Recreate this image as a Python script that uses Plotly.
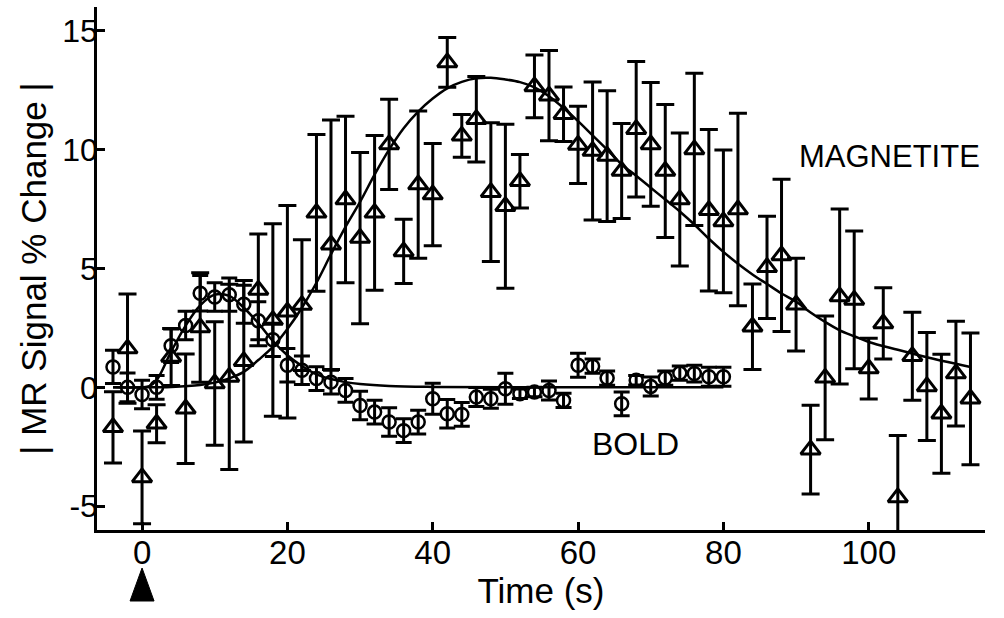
import plotly.graph_objects as go

# ---------------- data ----------------
mag_t = list(range(-4, 115, 2))
mag_y = [-1.68, 1.63, -3.79, -1.53, 1.28, -0.9, 2.52, 0.16, 0.44, 1.1,
         4.1, 2.83, 3.18, 3.46, 7.34, 6.0, 7.9, 6.28, 7.34, 10.22,
         5.72, 8.53, 8.11, 13.67, 10.58, 11.28, 8.21, 7.62, 8.67, 12.66,
         12.27, 11.49, 10.2, 9.94, 9.73, 9.1, 10.86, 10.22, 9.1, 7.9,
         10.01, 7.45, 6.98, 7.48, 2.55, 5.05, 5.55, 3.48, -2.62, 0.4,
         3.82, 3.68, 0.79, 2.69, -4.63, 1.31, 0.04, -1.11, 0.58, -0.48]
mag_err = [1.5, 2.3, 1.95, 0.8, 1.2, 2.3, 2.3, 2.6, 3.9, 3.4,
           2.35, 4.05, 4.47, 2.75, 3.3, 5.25, 3.5, 3.6, 3.25, 1.9,
           1.35, 3.1, 2.15, 1.05, 0.9, 1.8, 2.92, 3.45, 1.13, 1.32,
           1.9, 1.15, 1.62, 2.9, 2.75, 2.0, 2.85, 2.6, 2.8, 2.8,
           3.2, 3.4, 3.0, 4.05, 1.8, 2.15, 3.2, 1.95, 1.87, 2.6,
           3.68, 2.9, 1.28, 1.5, 2.6, 1.85, 2.27, 2.5, 2.2, 2.77]

bold_t = list(range(-4, 81, 2))
bold_y = [0.86, 0.0, -0.3, 0.0, 1.75, 2.6, 3.96, 3.8, 3.9, 3.5,
          2.8, 2.0, 0.93, 0.72, 0.37, 0.22, -0.13, -0.76, -1.04, -1.46,
          -1.82, -1.46, -0.48, -1.11, -1.14, -0.41, -0.48, -0.06, -0.27, -0.2,
          -0.13, -0.55, 0.93, 0.89, 0.39, -0.69, 0.3, 0.04, 0.39, 0.6,
          0.58, 0.45, 0.45]
bold_err = [0.7, 0.6, 0.6, 0.5, 0.7, 0.6, 0.75, 0.6, 0.7, 0.8,
            0.8, 0.7, 0.7, 0.6, 0.5, 0.5, 0.5, 0.6, 0.5, 0.6,
            0.5, 0.5, 0.65, 0.6, 0.5, 0.4, 0.4, 0.65, 0.2, 0.2,
            0.4, 0.3, 0.5, 0.3, 0.3, 0.5, 0.2, 0.4, 0.3, 0.3,
            0.35, 0.4, 0.4]

mag_fit_t = [-4, 0, 4, 8, 10, 12, 14, 16, 18, 20, 22, 24, 26, 28, 30, 32, 34,
             36, 38, 40, 42, 44, 46, 48, 50, 52, 54, 56, 58, 60, 62, 64, 66,
             68, 70, 72, 74, 76, 78, 80, 82, 84, 86, 88, 90, 92, 94, 96, 98,
             100, 104, 108, 112, 114]
mag_fit_y = [0.0, 0.0, 0.02, 0.1, 0.2, 0.38, 0.65, 1.15, 1.7, 2.45, 3.35, 4.4,
             5.6, 6.75, 7.8, 8.95, 10.0, 10.9, 11.6, 12.15, 12.58, 12.85, 13.0,
             13.02, 12.95, 12.84, 12.62, 12.25, 11.75, 11.2, 10.6, 10.0, 9.38,
             8.9, 8.4, 7.9, 7.4, 6.85, 6.25, 5.7, 5.2, 4.75, 4.35, 3.95, 3.6,
             3.15, 2.75, 2.4, 2.15, 1.91, 1.58, 1.27, 0.99, 0.86]

bold_fit_t = [-4, 0, 1, 2, 4, 6, 8, 10, 12, 14, 16, 18, 20, 22, 24, 26, 28,
              30, 34, 40, 50, 80]
bold_fit_y = [0.0, 0.0, 0.05, 0.3, 1.5, 2.6, 3.45, 3.9, 3.85, 3.35, 2.7,
              1.95, 1.35, 0.9, 0.55, 0.35, 0.22, 0.14, 0.06, 0.02, 0.0, 0.0]

x_ticks = [0, 20, 40, 60, 80, 100]
y_ticks = [-5, 0, 5, 10, 15]
y_tick_text = ["-5", "0", "5", "10", "15"]

FONT = "Liberation Sans, Arial, sans-serif"

fig = go.Figure()

fig.add_trace(go.Scatter(
    x=mag_fit_t, y=mag_fit_y, mode="lines", line=dict(color="black", width=2.5, shape="spline"),
    hoverinfo="skip", showlegend=False))
fig.add_trace(go.Scatter(
    x=bold_fit_t, y=bold_fit_y, mode="lines", line=dict(color="black", width=2.5, shape="spline"),
    hoverinfo="skip", showlegend=False))

fig.add_trace(go.Scatter(
    x=mag_t, y=mag_y, mode="markers",
    marker=dict(symbol="triangle-up-open", size=17, color="black", line=dict(width=3, color="black")),
    error_y=dict(type="data", array=mag_err, visible=True, color="black", thickness=3, width=9),
    showlegend=False))
fig.add_trace(go.Scatter(
    x=bold_t, y=bold_y, mode="markers",
    marker=dict(symbol="circle-open", size=13, color="black", line=dict(width=2.5, color="black")),
    error_y=dict(type="data", array=bold_err, visible=True, color="black", thickness=3, width=8),
    showlegend=False))

fig.add_annotation(x=90.1, y=9.7, text="MAGNETITE", showarrow=False, xanchor="left", yanchor="middle",
                   font=dict(family=FONT, size=31, color="black"))
fig.add_annotation(x=61.6, y=-2.38, text="BOLD", showarrow=False, xanchor="left", yanchor="middle",
                   font=dict(family=FONT, size=32, color="black"))

# stimulus marker below t = 0
fig.add_shape(type="path", xref="x", yref="paper", xsizemode="pixel", ysizemode="pixel",
              xanchor=0, yanchor=0, path="M-12,-71 L12,-71 L0,-38 Z",
              fillcolor="black", line=dict(color="black", width=1))

fig.update_layout(
    width=1004, height=618,
    margin=dict(l=97, r=19, t=7, b=88),
    paper_bgcolor="white", plot_bgcolor="white",
    font=dict(family=FONT, color="black", size=32),
    showlegend=False,
    xaxis=dict(range=[-6.2, 116], tickvals=x_ticks, ticks="inside", ticklen=8, tickwidth=2.5,
               tickcolor="black", showline=True, linewidth=2.5, linecolor="black",
               showgrid=False, zeroline=False, tickfont=dict(size=33), ticklabelstandoff=-8,
               title=dict(text="Time (s)", font=dict(size=35), standoff=2)),
    yaxis=dict(range=[-6, 16], tickvals=y_ticks, ticktext=y_tick_text, ticks="inside", ticklen=8,
               tickwidth=2.5, tickcolor="black", showline=True, linewidth=2.5, linecolor="black",
               showgrid=False, zeroline=False, tickfont=dict(size=32), ticklabelstandoff=-10,
               title=dict(text="| MR Signal % Change |", font=dict(size=35), standoff=6)),
)

fig.write_html("out.html", config={"displayModeBar": False},
               post_script="document.body.style.margin='0';document.body.style.overflow='hidden';")
